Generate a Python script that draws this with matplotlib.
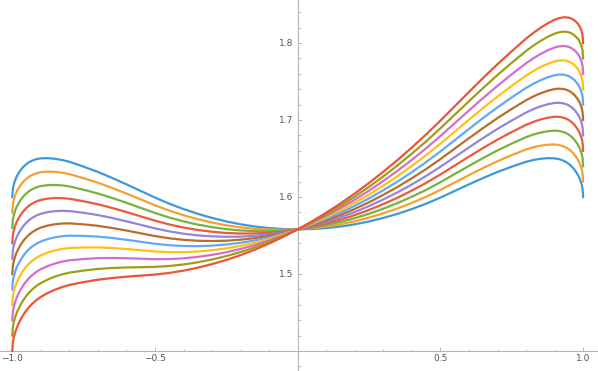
import numpy as np
import matplotlib
matplotlib.use("Agg")
import matplotlib.pyplot as plt
import matplotlib.transforms as mtransforms
from matplotlib.ticker import MultipleLocator, FixedLocator


#sample positions along x (denser near the ends, where the curves turn fast)
x = [-1.0, -0.998, -0.995, -0.99, -0.985, -0.98, -0.97, -0.96, -0.95, -0.94, -0.93, -0.915,
     -0.9, -0.875, -0.85, -0.825, -0.8, -0.75, -0.7, -0.65, -0.6, -0.55, -0.5, -0.45,
     -0.4, -0.35, -0.3, -0.25, -0.2, -0.15, -0.1, -0.05, 0.0,
     0.05, 0.1, 0.15, 0.2, 0.25, 0.3, 0.35, 0.4, 0.45, 0.5, 0.55, 0.6, 0.65, 0.7, 0.75,
     0.8, 0.825, 0.85, 0.875, 0.9, 0.915, 0.93, 0.94, 0.95, 0.96, 0.97, 0.98, 0.985,
     0.99, 0.995, 0.998, 1.0]

#curve values, from the blue one (lowest at x=1) to the red one (highest at x=1)
y_blue = [1.6000, 1.6105, 1.6160, 1.6219, 1.6263, 1.6298, 1.6354, 1.6397, 1.6430, 1.6455, 1.6474, 1.6493,
          1.6503, 1.6505, 1.6497, 1.6481, 1.6458, 1.6395, 1.6326, 1.6248, 1.6165, 1.6079, 1.5993, 1.5914,
          1.5844, 1.5782, 1.5729, 1.5683, 1.5646, 1.5617, 1.5597, 1.5584, 1.5580,
          1.5584, 1.5597, 1.5617, 1.5646, 1.5683, 1.5729, 1.5782, 1.5844, 1.5914, 1.5993, 1.6079, 1.6165,
          1.6248, 1.6326, 1.6395, 1.6458, 1.6481, 1.6497, 1.6505, 1.6503, 1.6493, 1.6474, 1.6455, 1.6430,
          1.6397, 1.6354, 1.6298, 1.6263, 1.6219, 1.6160, 1.6105, 1.6000]
y_orange = [1.5800, 1.5905, 1.5961, 1.6021, 1.6066, 1.6102, 1.6160, 1.6205, 1.6240, 1.6267, 1.6288, 1.6310,
            1.6323, 1.6330, 1.6327, 1.6316, 1.6298, 1.6245, 1.6186, 1.6118, 1.6045, 1.5969, 1.5893, 1.5824,
            1.5764, 1.5712, 1.5669, 1.5633, 1.5606, 1.5587, 1.5577, 1.5574, 1.5580,
            1.5594, 1.5617, 1.5647, 1.5686, 1.5733, 1.5789, 1.5852, 1.5924, 1.6004, 1.6093, 1.6189, 1.6285,
            1.6378, 1.6466, 1.6545, 1.6618, 1.6646, 1.6667, 1.6680, 1.6683, 1.6676, 1.6660, 1.6643, 1.6620,
            1.6589, 1.6548, 1.6494, 1.6460, 1.6417, 1.6359, 1.6305, 1.6200]
y_green = [1.5600, 1.5706, 1.5762, 1.5823, 1.5869, 1.5906, 1.5966, 1.6013, 1.6050, 1.6079, 1.6102, 1.6127,
           1.6143, 1.6155, 1.6157, 1.6151, 1.6138, 1.6095, 1.6046, 1.5988, 1.5925, 1.5859, 1.5793, 1.5734,
           1.5684, 1.5642, 1.5609, 1.5583, 1.5566, 1.5557, 1.5557, 1.5564, 1.5580,
           1.5604, 1.5637, 1.5677, 1.5726, 1.5783, 1.5849, 1.5922, 1.6004, 1.6094, 1.6193, 1.6299, 1.6405,
           1.6508, 1.6606, 1.6695, 1.6778, 1.6811, 1.6837, 1.6855, 1.6863, 1.6859, 1.6846, 1.6831, 1.6810,
           1.6781, 1.6742, 1.6690, 1.6657, 1.6615, 1.6558, 1.6504, 1.6400]
y_red = [1.5400, 1.5506, 1.5563, 1.5625, 1.5672, 1.5710, 1.5772, 1.5821, 1.5860, 1.5891, 1.5916, 1.5944,
         1.5963, 1.5980, 1.5987, 1.5986, 1.5978, 1.5945, 1.5906, 1.5858, 1.5805, 1.5749, 1.5693, 1.5644,
         1.5604, 1.5572, 1.5549, 1.5533, 1.5526, 1.5527, 1.5537, 1.5554, 1.5580,
         1.5614, 1.5657, 1.5707, 1.5766, 1.5833, 1.5909, 1.5992, 1.6084, 1.6184, 1.6293, 1.6409, 1.6525,
         1.6638, 1.6746, 1.6845, 1.6938, 1.6976, 1.7007, 1.7030, 1.7043, 1.7042, 1.7032, 1.7019, 1.7000,
         1.6973, 1.6936, 1.6886, 1.6854, 1.6813, 1.6757, 1.6704, 1.6600]
y_purple = [1.5200, 1.5307, 1.5364, 1.5427, 1.5475, 1.5514, 1.5578, 1.5629, 1.5670, 1.5703, 1.5730, 1.5761,
            1.5783, 1.5805, 1.5817, 1.5821, 1.5818, 1.5795, 1.5766, 1.5728, 1.5685, 1.5639, 1.5593, 1.5554,
            1.5524, 1.5502, 1.5489, 1.5483, 1.5486, 1.5497, 1.5517, 1.5544, 1.5580,
            1.5624, 1.5677, 1.5737, 1.5806, 1.5883, 1.5969, 1.6062, 1.6164, 1.6274, 1.6393, 1.6519, 1.6645,
            1.6768, 1.6886, 1.6995, 1.7098, 1.7141, 1.7177, 1.7205, 1.7223, 1.7225, 1.7218, 1.7207, 1.7190,
            1.7165, 1.7130, 1.7082, 1.7051, 1.7011, 1.6956, 1.6903, 1.6800]
y_brown = [1.5000, 1.5107, 1.5165, 1.5229, 1.5278, 1.5318, 1.5384, 1.5437, 1.5480, 1.5515, 1.5544, 1.5578,
           1.5603, 1.5630, 1.5647, 1.5656, 1.5658, 1.5645, 1.5626, 1.5598, 1.5565, 1.5529, 1.5493, 1.5464,
           1.5444, 1.5432, 1.5429, 1.5433, 1.5446, 1.5467, 1.5497, 1.5534, 1.5580,
           1.5634, 1.5697, 1.5767, 1.5846, 1.5933, 1.6029, 1.6132, 1.6244, 1.6364, 1.6493, 1.6629, 1.6765,
           1.6898, 1.7026, 1.7145, 1.7258, 1.7306, 1.7347, 1.7380, 1.7403, 1.7408, 1.7404, 1.7395, 1.7380,
           1.7357, 1.7324, 1.7278, 1.7248, 1.7209, 1.7155, 1.7103, 1.7000]
y_lightblue = [1.4800, 1.4907, 1.4966, 1.5031, 1.5081, 1.5122, 1.5190, 1.5245, 1.5290, 1.5327, 1.5358, 1.5395,
               1.5423, 1.5455, 1.5477, 1.5491, 1.5498, 1.5495, 1.5486, 1.5468, 1.5445, 1.5419, 1.5393, 1.5374,
               1.5364, 1.5362, 1.5369, 1.5383, 1.5406, 1.5437, 1.5477, 1.5524, 1.5580,
               1.5644, 1.5717, 1.5797, 1.5886, 1.5983, 1.6089, 1.6202, 1.6324, 1.6454, 1.6593, 1.6739, 1.6885,
               1.7028, 1.7166, 1.7295, 1.7418, 1.7471, 1.7517, 1.7555, 1.7583, 1.7591, 1.7590, 1.7583, 1.7570,
               1.7549, 1.7518, 1.7474, 1.7445, 1.7407, 1.7354, 1.7303, 1.7200]
y_yellow = [1.4600, 1.4708, 1.4767, 1.4833, 1.4884, 1.4926, 1.4996, 1.5053, 1.5100, 1.5139, 1.5172, 1.5212,
            1.5243, 1.5280, 1.5307, 1.5326, 1.5338, 1.5345, 1.5346, 1.5338, 1.5325, 1.5309, 1.5293, 1.5284,
            1.5284, 1.5292, 1.5309, 1.5333, 1.5366, 1.5407, 1.5457, 1.5514, 1.5580,
            1.5654, 1.5737, 1.5827, 1.5926, 1.6033, 1.6149, 1.6272, 1.6404, 1.6544, 1.6693, 1.6849, 1.7005,
            1.7158, 1.7306, 1.7445, 1.7578, 1.7636, 1.7687, 1.7730, 1.7763, 1.7774, 1.7776, 1.7771, 1.7760,
            1.7741, 1.7712, 1.7670, 1.7642, 1.7605, 1.7553, 1.7502, 1.7400]
y_pink = [1.4400, 1.4508, 1.4568, 1.4635, 1.4687, 1.4730, 1.4802, 1.4861, 1.4910, 1.4951, 1.4986, 1.5029,
          1.5063, 1.5105, 1.5137, 1.5161, 1.5178, 1.5195, 1.5206, 1.5208, 1.5205, 1.5199, 1.5193, 1.5194,
          1.5204, 1.5222, 1.5249, 1.5283, 1.5326, 1.5377, 1.5437, 1.5504, 1.5580,
          1.5664, 1.5757, 1.5857, 1.5966, 1.6083, 1.6209, 1.6342, 1.6484, 1.6634, 1.6793, 1.6959, 1.7125,
          1.7288, 1.7446, 1.7595, 1.7738, 1.7801, 1.7857, 1.7905, 1.7943, 1.7957, 1.7962, 1.7959, 1.7950,
          1.7933, 1.7906, 1.7866, 1.7839, 1.7803, 1.7752, 1.7702, 1.7600]
y_olive = [1.4200, 1.4309, 1.4369, 1.4437, 1.4490, 1.4534, 1.4608, 1.4669, 1.4720, 1.4763, 1.4800, 1.4846,
           1.4883, 1.4930, 1.4967, 1.4996, 1.5018, 1.5045, 1.5066, 1.5078, 1.5085, 1.5089, 1.5093, 1.5104,
           1.5124, 1.5152, 1.5189, 1.5233, 1.5286, 1.5347, 1.5417, 1.5494, 1.5580,
           1.5674, 1.5777, 1.5887, 1.6006, 1.6133, 1.6269, 1.6412, 1.6564, 1.6724, 1.6893, 1.7069, 1.7245,
           1.7418, 1.7586, 1.7745, 1.7898, 1.7966, 1.8027, 1.8080, 1.8123, 1.8140, 1.8148, 1.8147, 1.8140,
           1.8125, 1.8100, 1.8062, 1.8036, 1.8001, 1.7951, 1.7901, 1.7800]
y_red2 = [1.4000, 1.4109, 1.4170, 1.4239, 1.4293, 1.4338, 1.4414, 1.4477, 1.4530, 1.4575, 1.4614, 1.4663,
          1.4703, 1.4755, 1.4797, 1.4831, 1.4858, 1.4895, 1.4926, 1.4948, 1.4965, 1.4979, 1.4993, 1.5014,
          1.5044, 1.5082, 1.5129, 1.5183, 1.5246, 1.5317, 1.5397, 1.5484, 1.5580,
          1.5684, 1.5797, 1.5917, 1.6046, 1.6183, 1.6329, 1.6482, 1.6644, 1.6814, 1.6993, 1.7179, 1.7365,
          1.7548, 1.7726, 1.7895, 1.8058, 1.8131, 1.8197, 1.8255, 1.8303, 1.8323, 1.8334, 1.8335, 1.8330,
          1.8317, 1.8294, 1.8258, 1.8233, 1.8199, 1.8150, 1.8101, 1.8000]

series = [y_blue, y_orange, y_green, y_red, y_purple, y_brown,
          y_lightblue, y_yellow, y_pink, y_olive, y_red2]
colors = ["#3D9AD4", "#F5A031", "#76B240", "#EA5A3B", "#9584D9", "#BD6B28",
          "#63A7F8", "#FFC014", "#D26DD2", "#9DA012", "#EB5535"]

x_ticks = [-1.0, -0.5, 0.5, 1.0]
x_labels = ["\u22121.0", "\u22120.5", "0.5", "1.0"]
y_ticks = [1.5, 1.6, 1.7, 1.8]
y_labels = ["1.5", "1.6", "1.7", "1.8"]

fig = plt.figure(figsize=(5.98, 3.71), dpi=100)
ax = fig.add_axes([0, 0, 1, 1])
ax.patch.set_visible(False)

for ys, c in zip(series, colors):
    ax.plot(x, ys, color=c, lw=1.6, solid_joinstyle='round', zorder=3)

ax.set_xlim(-1.043, 1.052)
ax.set_ylim(1.374, 1.856)

#Mathematica style axes crossing at (0, 1.4)
axis_col = '#b5b5b5'
label_col = '#555555'
for side in ['top', 'right']:
    ax.spines[side].set_visible(False)
ax.spines['left'].set_position(('data', 0.0))
ax.spines['bottom'].set_position(('data', 1.4))
for side in ['left', 'bottom']:
    ax.spines[side].set_color(axis_col)
    ax.spines[side].set_linewidth(0.8)
    ax.spines[side].set_zorder(1)

ax.xaxis.set_major_locator(FixedLocator(x_ticks))
ax.set_xticklabels(x_labels)
ax.xaxis.set_minor_locator(MultipleLocator(0.1))
ax.yaxis.set_major_locator(FixedLocator(y_ticks))
ax.yaxis.set_minor_locator(MultipleLocator(0.02))

ax.tick_params(which='major', direction='in', length=3, width=0.7, color=axis_col,
               labelsize=6.5, labelcolor=label_col, pad=2.5)
ax.tick_params(which='minor', direction='in', length=1.8, width=0.6, color=axis_col)
ax.tick_params(axis='y', which='both', labelleft=False)

#y labels sit just left of the vertical axis
offset = mtransforms.ScaledTranslation(-3 / 72, 0, fig.dpi_scale_trans)
for v, lab in zip(y_ticks, y_labels):
    ax.text(0, v, lab, transform=ax.transData + offset, ha='right', va='center',
            fontsize=6.5, color=label_col)

fig.savefig('out.png', dpi=100)
